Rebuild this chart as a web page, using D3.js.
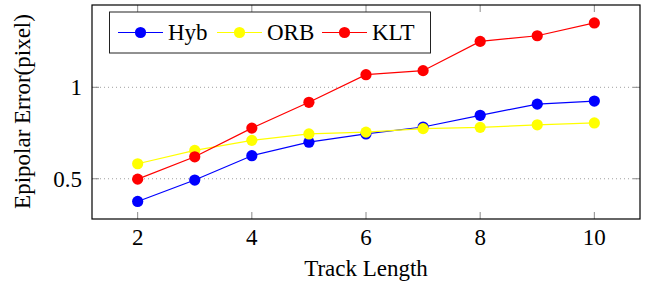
<!DOCTYPE html>
<html>
<head>
<meta charset="utf-8">
<script src="https://cdn.jsdelivr.net/npm/d3@7"></script>
<style>
  body { margin: 0; background: #fff; }
</style>
</head>
<body>
<svg id="chart" width="649" height="286"></svg>
<script>
// ---- data ----
const trackLength = [2, 3, 4, 5, 6, 7, 8, 9, 10];
const hyb = [0.376, 0.493, 0.626, 0.70, 0.745, 0.783, 0.847, 0.908, 0.925];
const orb = [0.582, 0.655, 0.71, 0.745, 0.755, 0.774, 0.781, 0.795, 0.805];
const klt = [0.498, 0.62, 0.777, 0.918, 1.069, 1.091, 1.251, 1.282, 1.352];
const seriesNames = ["Hyb", "ORB", "KLT"];
const seriesColors = ["#0000ff", "#ffff00", "#ff0000"];
const xTicks = [2, 4, 6, 8, 10];
const yTicks = [0.5, 1];

const svg = d3.select("#chart")
    .attr("font-family", "'Liberation Serif', 'Times New Roman', serif");
const plotLeft = 92, plotRight = 640, plotTop = 5, plotBottom = 219;
const fontSize = 23;

const x = d3.scaleLinear().domain([1.2, 10.8]).range([plotLeft, plotRight]);
const y = d3.scaleLinear().domain([0.28, 1.45]).range([plotBottom, plotTop]);

// grid lines (dotted)
svg.append("g")
    .selectAll("line")
    .data(yTicks)
    .enter()
    .append("line")
    .attr("x1", plotLeft).attr("x2", plotRight)
    .attr("y1", d => y(d)).attr("y2", d => y(d))
    .attr("stroke", "#a0a0a0")
    .attr("stroke-width", 1)
    .attr("stroke-dasharray", "1,3");

// ticks, drawn inside on all four sides
const tickLen = 7;
const tickG = svg.append("g").attr("stroke", "#8a8a8a").attr("stroke-width", 1);
xTicks.forEach(t => {
    tickG.append("line").attr("x1", x(t)).attr("x2", x(t)).attr("y1", plotBottom).attr("y2", plotBottom - tickLen);
    tickG.append("line").attr("x1", x(t)).attr("x2", x(t)).attr("y1", plotTop).attr("y2", plotTop + tickLen);
});
yTicks.forEach(t => {
    tickG.append("line").attr("x1", plotLeft).attr("x2", plotLeft + tickLen).attr("y1", y(t)).attr("y2", y(t));
    tickG.append("line").attr("x1", plotRight).attr("x2", plotRight - tickLen).attr("y1", y(t)).attr("y2", y(t));
});

// tick labels
svg.append("g")
    .selectAll("text")
    .data(xTicks)
    .enter()
    .append("text")
    .attr("x", d => x(d))
    .attr("y", 245)
    .attr("text-anchor", "middle")
    .attr("font-size", fontSize)
    .text(d => d);

svg.append("g")
    .selectAll("text")
    .data(yTicks)
    .enter()
    .append("text")
    .attr("x", 82)
    .attr("y", d => y(d))
    .attr("dy", "0.34em")
    .attr("text-anchor", "end")
    .attr("font-size", fontSize)
    .text(d => d);

// axis titles
svg.append("text")
    .attr("x", (plotLeft + plotRight) / 2)
    .attr("y", 276)
    .attr("text-anchor", "middle")
    .attr("font-size", fontSize)
    .text("Track Length");

svg.append("text")
    .attr("transform", "translate(30,111.5) rotate(-90)")
    .attr("text-anchor", "middle")
    .attr("font-size", fontSize)
    .text("Epipolar Error(pixel)");

// series
const allSeries = [hyb, orb, klt];
const line = d3.line()
    .x((d, i) => x(trackLength[i]))
    .y(d => y(d));

allSeries.forEach((vals, k) => {
    const g = svg.append("g");
    g.append("path")
        .attr("d", line(vals))
        .attr("fill", "none")
        .attr("stroke", seriesColors[k])
        .attr("stroke-width", 1.2);
    g.selectAll("circle")
        .data(vals)
        .enter()
        .append("circle")
        .attr("cx", (d, i) => x(trackLength[i]))
        .attr("cy", d => y(d))
        .attr("r", 5.6)
        .attr("fill", seriesColors[k]);
});

// frame
svg.append("rect")
    .attr("x", plotLeft).attr("y", plotTop)
    .attr("width", plotRight - plotLeft).attr("height", plotBottom - plotTop)
    .attr("fill", "none")
    .attr("stroke", "#000")
    .attr("stroke-width", 1.2);

// legend
const legend = svg.append("g");
legend.append("rect")
    .attr("x", 109.5).attr("y", 12)
    .attr("width", 321).attr("height", 41)
    .attr("fill", "#fff")
    .attr("stroke", "#222")
    .attr("stroke-width", 1);

const legendX = [118, 217, 322];
seriesNames.forEach((name, k) => {
    const lx = legendX[k];
    const ly = 32.5;
    legend.append("line")
        .attr("x1", lx).attr("x2", lx + 45)
        .attr("y1", ly).attr("y2", ly)
        .attr("stroke", seriesColors[k])
        .attr("stroke-width", 1.2);
    legend.append("circle")
        .attr("cx", lx + 22.5).attr("cy", ly)
        .attr("r", 5.6)
        .attr("fill", seriesColors[k]);
    legend.append("text")
        .attr("x", lx + 50)
        .attr("y", ly)
        .attr("dy", "0.34em")
        .attr("font-size", fontSize)
        .text(name);
});
</script>
</body>
</html>
